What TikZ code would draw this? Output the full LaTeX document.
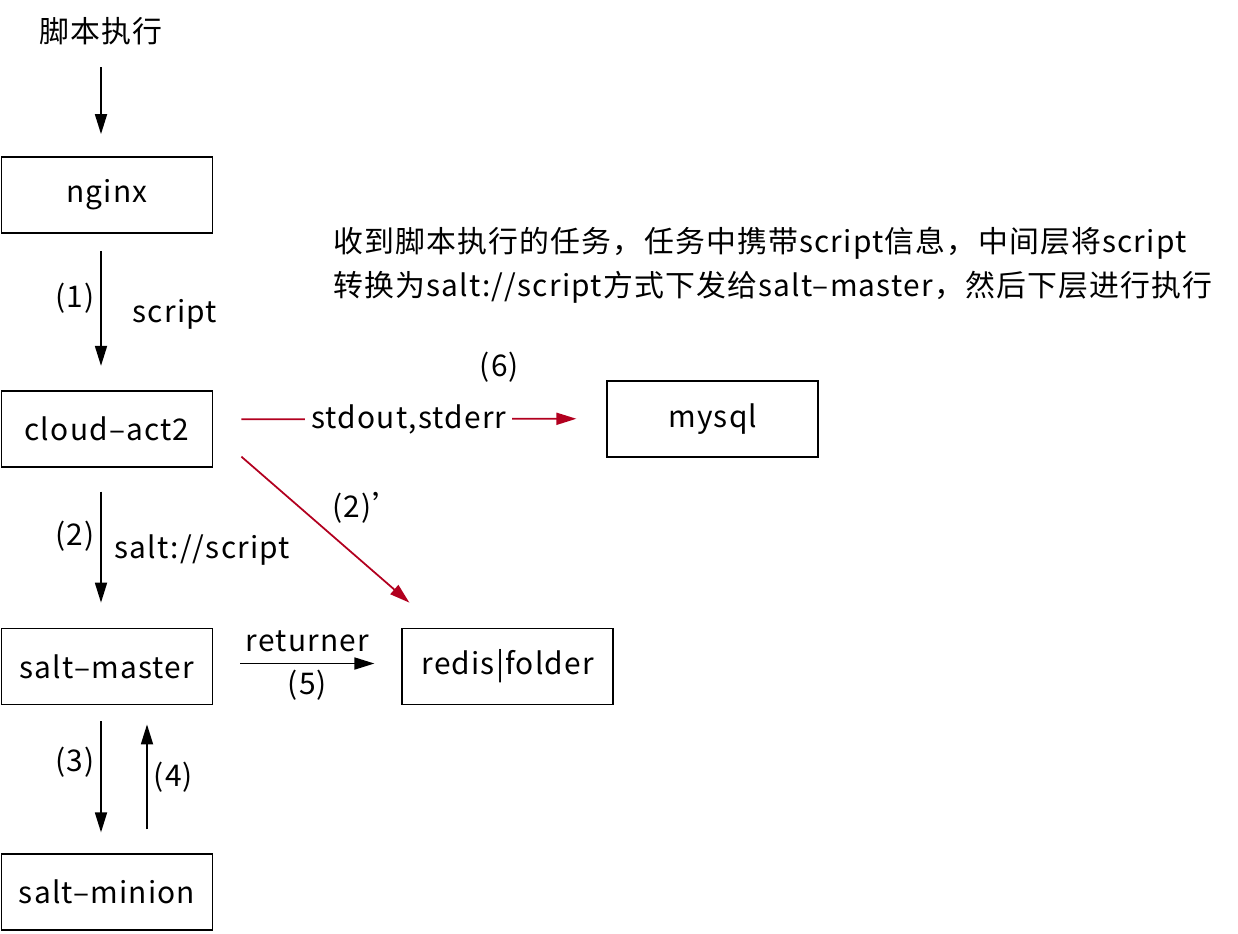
\documentclass[tikz,border=0pt]{standalone}
\usepackage{fontspec}
\setmainfont[LetterSpace=4]{Noto Sans CJK SC}
\usetikzlibrary{positioning, arrows.meta}
\definecolor{flowred}{RGB}{178,0,31}
\tikzstyle{box} = [rectangle, minimum width=4.22cm, minimum height=1.52cm, text centered, draw=black, line width=1pt]
\tikzstyle{arrow} = [line width=1pt, -{Triangle[length=0.4cm, width=0.24cm]}]
\tikzstyle{redarrow} = [arrow, color=flowred]

\begin{document}
\begin{tikzpicture}[font=\fontsize{17}{20}\selectfont]
\useasboundingbox (0,0) rectangle (24.76,-18.68);

\node (nginx) [box] at (2.14,-3.90) {nginx};
\node (title) [above=2.1cm of nginx, xshift=-0.12cm] {脚本执行};

% left column
\node (act) [box, below=3.12cm of nginx] {cloud–act2};
\node (master) [box, below=3.2cm of act] {salt–master};
\node (minion) [box, below=2.96cm of master] {salt–minion};

% right side
\node (redis) [box, right=3.76cm of master] {redis|folder};
\node (mysql) [box, right=7.86cm of act, yshift=0.2cm] {mysql};

\node (note) [anchor=west, align=left, inner sep=0pt, font=\fontsize{17}{25}\selectfont] at (6.66,-5.30) {收到脚本执行的任务，任务中携带script信息，中间层将script\\转换为salt://script方式下发给salt–master，然后下层进行执行};

% Arrows
\draw [arrow] ([yshift=-0.32cm]title.south) -- ([xshift=-0.12cm, yshift=0.44cm]nginx.north);
\draw [arrow] ([xshift=-0.12cm, yshift=-0.34cm]nginx.south) -- node[pos=0.41, left] {(1)} node[pos=0.55, right=0.5cm] {script} ([xshift=-0.12cm, yshift=0.48cm]act.north);
\draw [arrow] ([xshift=-0.12cm, yshift=-0.48cm]act.south) -- node[pos=0.4, left] {(2)} node[pos=0.53, right=0.14cm] {salt://script} ([xshift=-0.12cm, yshift=0.5cm]master.north);
\draw [arrow] ([xshift=-0.12cm, yshift=-0.32cm]master.south) -- node[pos=0.37, left] {(3)} ([xshift=-0.12cm, yshift=0.42cm]minion.north);
\draw [arrow] ([xshift=0.8cm, yshift=0.48cm]minion.north) -- node[pos=0.5, right] {(4)} ([xshift=0.8cm, yshift=-0.38cm]master.south);
\draw [arrow, shorten <=0.54cm, shorten >=0.54cm] ([yshift=0.06cm]master.east) -- node[above=0.1cm] {returner} node[below] {(5)} ([yshift=0.06cm]redis.west);
\draw [redarrow] ([xshift=0.56cm, yshift=0.19cm]act.east) -- node[fill=white, text=black] {stdout,stderr} node[pos=0.77, above=0.6cm, text=black] {(6)} ([xshift=-0.6cm]mysql.west);
\draw [redarrow] ([xshift=0.56cm, yshift=0.22cm]act.south east) -- node[pos=0.5, above right, text=black] {(2)’} ([xshift=0.16cm, yshift=0.5cm]redis.north west);

\end{tikzpicture}
\end{document}
